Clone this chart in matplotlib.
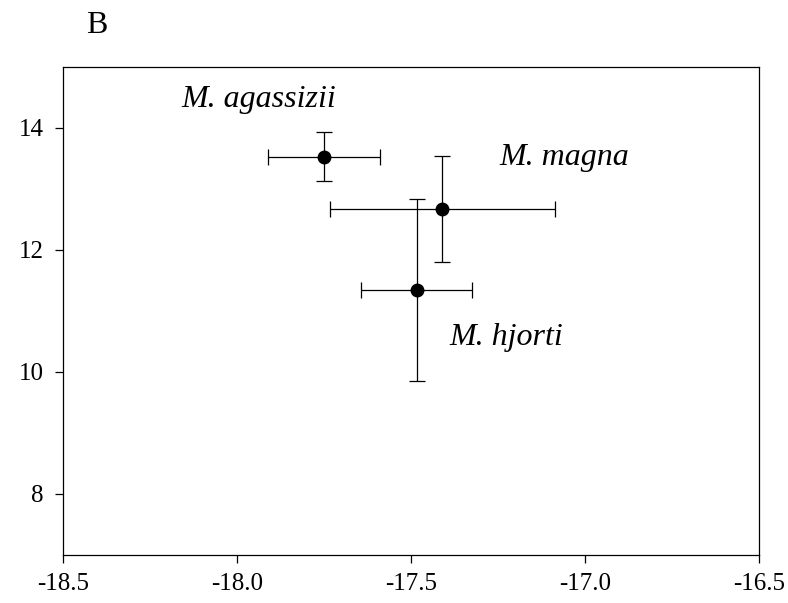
import matplotlib
matplotlib.use("Agg")
import matplotlib.pyplot as plt

# species means and errors
species = ["M. agassizii", "M. magna", "M. hjorti"]
x_vals = [-17.75, -17.41, -17.484]
y_vals = [13.53, 12.667, 11.344]
x_err = [0.162, 0.323, 0.159]
y_err = [0.40, 0.865, 1.485]
label_pos = [(-18.16, 14.46), (-17.245, 13.52), (-17.39, 10.57)]

x_ticks = [-18.5, -18.0, -17.5, -17.0, -16.5]
y_ticks = [8, 10, 12, 14]

plt.rcParams["font.family"] = ["Liberation Serif", "DejaVu Serif"]

fig = plt.figure(figsize=(7.88, 6.03), dpi=100)
ax = fig.add_axes([0.080, 0.0796, 0.883, 0.8094])

ax.errorbar(x_vals, y_vals, xerr=x_err, yerr=y_err, fmt="o", color="black",
            markersize=9, ecolor="black", elinewidth=0.9, capsize=6, capthick=0.9)

for name, (lx, ly) in zip(species, label_pos):
    ax.text(lx, ly, name, fontsize=23, style="italic", va="center", ha="left")

ax.set_xlim(-18.5, -16.5)
ax.set_ylim(7, 15)
ax.set_xticks(x_ticks)
ax.set_xticklabels([f"{t:.1f}" for t in x_ticks])
ax.set_yticks(y_ticks)
ax.tick_params(direction="out", length=6, width=0.9, labelsize=18, pad=8)
ax.tick_params(axis="x", pad=7)
for s in ax.spines.values():
    s.set_linewidth(0.9)

fig.text(0.109, 0.958, "B", fontsize=23, ha="left", va="center")

fig.savefig("out.png", dpi=100)
